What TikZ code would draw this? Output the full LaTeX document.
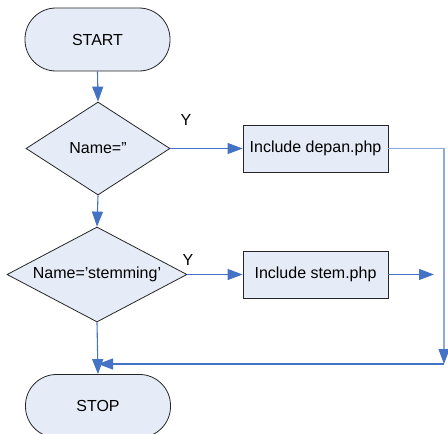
\documentclass[tikz,border=0pt]{standalone}
\usepackage{fontspec}
\setmainfont{Liberation Sans}
\usetikzlibrary{shapes.geometric,arrows.meta}
\definecolor{shapefill}{RGB}{230,236,247}
\definecolor{flowblue}{RGB}{68,114,196}
\definecolor{paleblue}{RGB}{140,170,220}
\tikzset{
  every node/.style={font=\fontsize{16}{19}\selectfont},
  terminal/.style={draw=black!85, fill=shapefill, line width=0.8pt, rectangle,
    rounded corners=31pt, minimum width=145pt, minimum height=63pt, inner sep=0pt},
  decision/.style={draw=black!85, fill=shapefill, line width=0.8pt, diamond,
    inner sep=0pt},
  process/.style={draw=black!85, fill=shapefill, line width=0.8pt, rectangle,
    minimum width=145pt, minimum height=47pt, inner sep=0pt},
  flow/.style={draw=flowblue, line width=1.1pt, -{Triangle[length=15pt,width=11pt,color=flowblue]}},
  paleflow/.style={draw=paleblue, line width=1.1pt},
  ylabel/.style={inner sep=0pt}
}
\begin{document}
\begin{tikzpicture}[x=1pt,y=-1pt]
\clip (0,0) rectangle (448,434);
\useasboundingbox (0,0) rectangle (448,434);

% start / stop terminals
\node[terminal] (start) at (97.5,39.5) {START};
\node[terminal] (stop) at (98,406) {STOP};

% decisions
\node[decision, aspect=1.55, minimum width=144pt, minimum height=93pt] (d1) at (98,148.5) {Name=”};
\node[decision, aspect=2.2, minimum width=180pt, minimum height=95pt] (d2) at (97,274.5) {Name=’stemming’};

% actions
\node[process] (b1) at (315.5,148.5) {Include depan.php};
\node[process] (b2) at (315.5,274.5) {Include stem.php};

% branch labels
\node[ylabel] (y1) at (186,120) {Y};
\node[ylabel] (y2) at (188,260) {Y};

% routing points
\coordinate (r1) at (444,148.5);
\coordinate (r2) at (444,364);
\coordinate (m1) at (98,364);
\coordinate (e2) at (434,274.5);

% connectors
\draw[flow] (start.south) -- (d1.north);
\draw[flow] (d1.east) -- (b1.west);
\draw[flow] (d1.south) -- (d2.north);
\draw[flow] (d2.east) -- (b2.west);
\draw[flow] (b2.east) -- (e2);
\draw[flow] (d2.south) -- (stop.north);
\draw[paleflow, -{Triangle[length=15pt,width=11pt,color=flowblue]}] (b1.east) -- (r1) -- (r2);
\draw[flow] (r2) -- (m1);
\end{tikzpicture}
\end{document}
